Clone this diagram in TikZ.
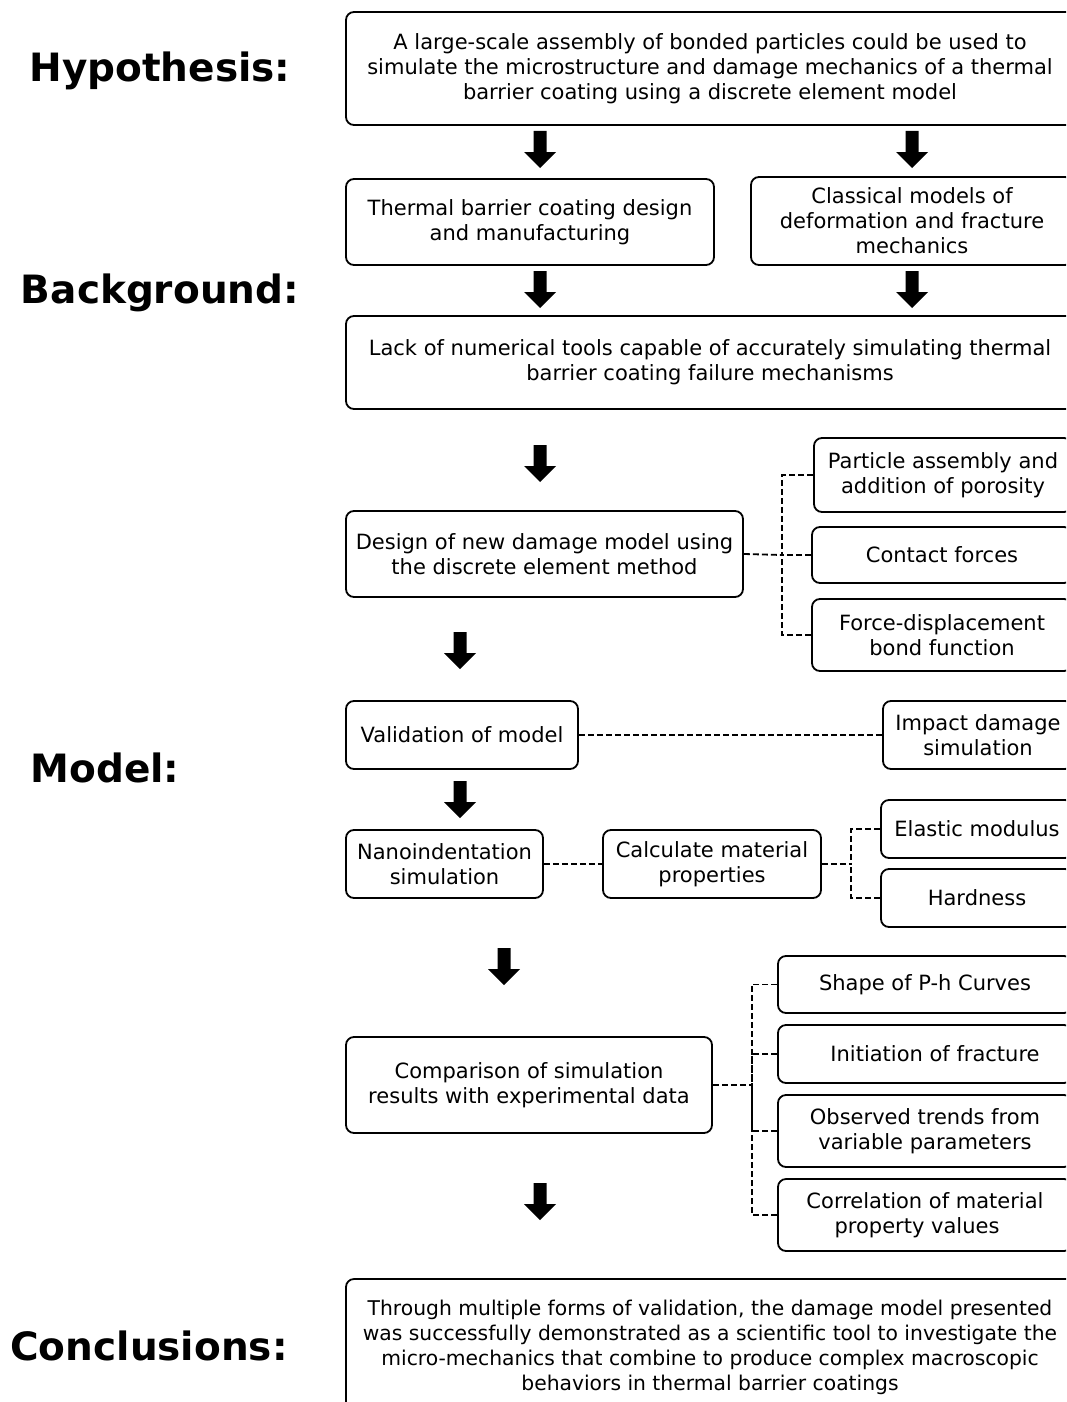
\documentclass[tikz,border=0pt]{standalone}
\usepackage{fontspec}
\setmainfont{DejaVu Sans}
\begin{document}
\begin{tikzpicture}[x=1pt,y=-1pt,
  box/.style={draw=black, line width=1.8pt, rounded corners=8pt, inner sep=0pt, align=center,
    font=\fontsize{21}{25}\selectfont},
  conn/.style={line width=1.8pt, dash pattern=on 6pt off 3pt},
  lbl/.style={font=\fontsize{39}{47}\selectfont\bfseries, inner sep=0pt},
  bigarrow/.pic={\fill[black] (-6.5,0) -- (6.5,0) -- (6.5,21) -- (16,21) -- (0,37) -- (-16,21) -- (-6.5,21) -- cycle;}
]
\useasboundingbox (0,0) rectangle (1066,1402);
\clip (0,0) rectangle (1066,1402);

\node[lbl] (lh) at (160,71) {Hypothesis:};
\node[lbl] (lb) at (160,293) {Background:};
\node[lbl] (lm) at (105,768) {Model:};
\node[lbl] (lc) at (149,1346) {Conclusions:};

\node[box, minimum width=728pt, minimum height=113pt] (hyp) at (710,68.5) {A large-scale assembly of bonded particles could be used to\\simulate the microstructure and damage mechanics of a thermal\\barrier coating using a discrete element model};
\node[box, minimum width=368pt, minimum height=86pt] (tbc) at (530,222) {Thermal barrier coating design\\and manufacturing};
\node[box, minimum width=322pt, minimum height=88pt] (cls) at (912,221) {Classical models of\\deformation and fracture\\mechanics};
\node[box, minimum width=728pt, minimum height=93pt] (lack) at (710,362.5) {Lack of numerical tools capable of accurately simulating thermal\\barrier coating failure mechanisms};
\node[box, minimum width=397pt, minimum height=86pt] (design) at (544.5,554) {Design of new damage model using\\the discrete element method};
\node[box, minimum width=258pt, minimum height=74pt] (part) at (943,475) {Particle assembly and\\addition of porosity};
\node[box, minimum width=260pt, minimum height=56pt] (contact) at (942,555) {Contact forces};
\node[box, minimum width=260pt, minimum height=72pt] (force) at (942,635) {Force-displacement\\bond function};
\node[box, minimum width=232pt, minimum height=68pt] (valid) at (462,735) {Validation of model};
\node[box, minimum width=190pt, minimum height=68pt] (impact) at (978,735) {Impact damage\\simulation};
\node[box, minimum width=197pt, minimum height=68pt] (nano) at (444.5,864) {Nanoindentation\\simulation};
\node[box, minimum width=218pt, minimum height=68pt] (calc) at (712,864) {Calculate material\\properties};
\node[box, minimum width=192pt, minimum height=58pt] (elastic) at (977,829) {Elastic modulus};
\node[box, minimum width=192pt, minimum height=58pt] (hard) at (977,898) {Hardness};
\node[box, minimum width=366pt, minimum height=96pt] (comp) at (529,1085) {Comparison of simulation\\results with experimental data};
\node[box, minimum width=294pt, minimum height=57pt] (shape) at (925,984.5) {Shape of P-h Curves};
\node[box, minimum width=294pt, minimum height=58pt] (init) at (925,1054) {\hspace*{20pt}Initiation of fracture};
\node[box, minimum width=294pt, minimum height=72pt] (obs) at (925,1131) {Observed trends from\\variable parameters};
\node[box, minimum width=294pt, minimum height=72pt] (corr) at (925,1215) {Correlation of material\\property values\hspace*{16pt}};
\node[box, minimum width=728pt, minimum height=136pt, font=\fontsize{20.3}{25}\selectfont] (concl) at (710,1347) {Through multiple forms of validation, the damage model presented\\was successfully demonstrated as a scientific tool to investigate the\\micro-mechanics that combine to produce complex macroscopic\\behaviors in thermal barrier coatings};

\pic at (540,131) {bigarrow};
\pic at (912,131) {bigarrow};
\pic at (540,271) {bigarrow};
\pic at (912,271) {bigarrow};
\pic at (540,445) {bigarrow};
\pic at (460,632) {bigarrow};
\pic at (460,781) {bigarrow};
\pic at (504,948) {bigarrow};
\pic at (540,1183) {bigarrow};

\coordinate (j1) at (782,555);
\draw[conn] (design.east) -- (j1);
\draw[conn] (part.west) -| (j1);
\draw[conn] (contact.west) -- (j1);
\draw[conn] (force.west) -| (j1);
\draw[conn] (valid.east) -- (impact.west);
\draw[conn] (nano.east) -- (calc.west);
\coordinate (j2) at (851,864);
\draw[conn] (calc.east) -- (j2);
\draw[conn] (elastic.west) -| (j2);
\draw[conn] (hard.west) -| (j2);
\coordinate (j3) at (752,1085);
\draw[conn] (comp.east) -- (j3);
\draw[conn] (shape.west) -| (j3);
\draw[conn] (init.west) -| (j3);
\draw[conn] (obs.west) -| (j3);
\draw[conn] (corr.west) -| (j3);
\end{tikzpicture}
\end{document}
